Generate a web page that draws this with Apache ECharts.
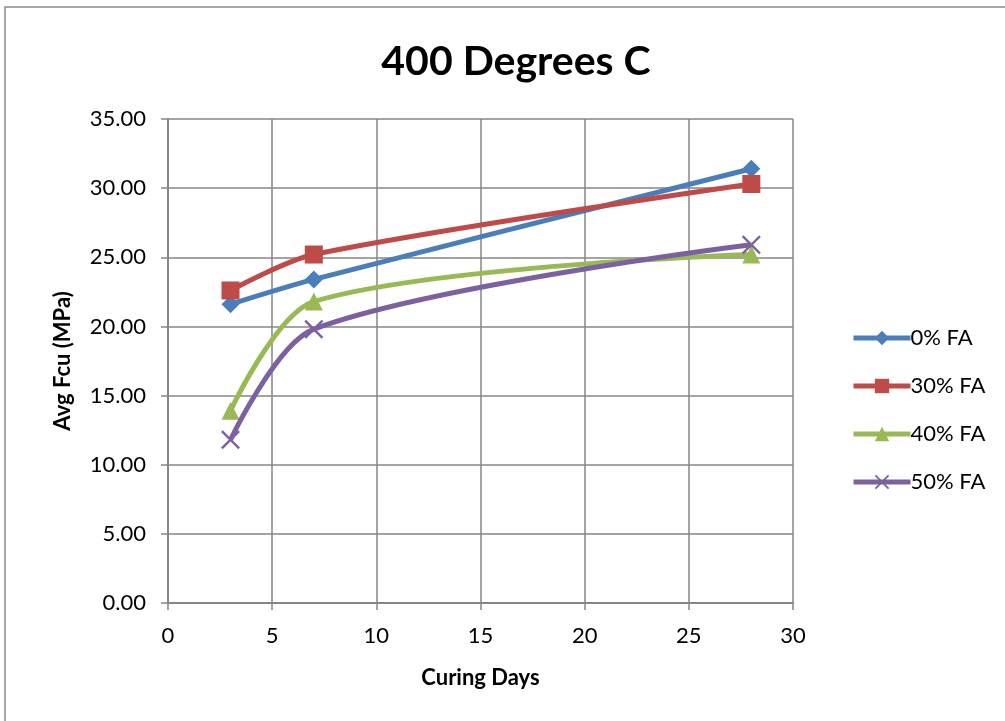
<!DOCTYPE html>
<html>
<head>
<meta charset="utf-8">
<script src="https://cdn.jsdelivr.net/npm/echarts@6/dist/echarts.min.js"></script>
<style>
  html, body { margin: 0; padding: 0; background: #fff; }
  #chart { width: 1005px; height: 721px; }
</style>
</head>
<body>
<div id="chart"></div>
<script>
// Curing days and average compressive strength after exposure to 400 °C
const days = [3, 7, 28];
const seriesNames = ['0% FA', '30% FA', '40% FA', '50% FA'];
const fa0 = [21.6, 23.4, 31.4];
const fa30 = [22.6, 25.2, 30.3];
const fa40 = [13.9, 21.8, 25.2];
const fa50 = [11.8, 19.8, 25.9];

const colors = ['#4A7EBB', '#BE4B48', '#98B954', '#7D60A0'];
const crossPath = 'path://M0,0.9L0.9,0L5,4.1L9.1,0L10,0.9L5.9,5L10,9.1L9.1,10L5,5.9L0.9,10L0,9.1L4.1,5Z';
const symbols = ['diamond', 'rect', 'triangle', crossPath];
const symbolSizes = [18, 18, 18, 19];
const values = [fa0, fa30, fa40, fa50];

const font = 'Lato, "Open Sans", sans-serif';

const chart = echarts.init(document.getElementById('chart'));
chart.setOption({
  animation: false,
  backgroundColor: '#fff',
  textStyle: { fontFamily: font },
  graphic: [{
    type: 'rect',
    shape: { x: 5, y: 7, width: 1100, height: 800 },
    style: { fill: 'none', stroke: '#8a8a8a', lineWidth: 1.5 },
    silent: true
  }],
  title: {
    text: '400 Degrees C',
    left: 511, top: 36, textAlign: 'center',
    textStyle: { fontFamily: font, fontSize: 41, fontWeight: 'bold', color: '#000' }
  },
  grid: { left: 168, right: 212, top: 119, bottom: 118, containLabel: false },
  legend: {
    orient: 'vertical',
    left: 846, top: 322,
    itemGap: 26, itemWidth: 57, itemHeight: 18,
    lineStyle: { width: 5 },
    textStyle: { fontFamily: font, fontSize: 22, color: '#000', padding: [0, 0, 0, -5] },
    data: seriesNames
  },
  xAxis: {
    type: 'value', min: 0, max: 30, interval: 5,
    name: 'Curing Days', nameLocation: 'middle', nameGap: 64,
    nameTextStyle: { fontFamily: font, fontSize: 22, fontWeight: 'bold', color: '#000' },
    axisLine: { show: true, onZero: false, lineStyle: { color: '#868686', width: 2 } },
    axisTick: { show: true, length: 7, lineStyle: { color: '#868686', width: 1.5 } },
    axisLabel: { fontFamily: font, fontSize: 22, color: '#000', margin: 22 },
    splitLine: { show: true, lineStyle: { color: '#868686', width: 1.5 } }
  },
  yAxis: {
    type: 'value', min: 0, max: 35, interval: 5,
    name: 'Avg Fcu (MPa)', nameLocation: 'middle', nameGap: 94, nameRotate: 90,
    nameTextStyle: { fontFamily: font, fontSize: 22, fontWeight: 'bold', color: '#000' },
    axisLine: { show: true, lineStyle: { color: '#868686', width: 2 } },
    axisTick: { show: true, length: 7, lineStyle: { color: '#868686', width: 1.5 } },
    axisLabel: {
      fontFamily: font, fontSize: 22, color: '#000', margin: 22,
      formatter: v => v.toFixed(2)
    },
    splitLine: { show: true, lineStyle: { color: '#868686', width: 1.5 } }
  },
  series: seriesNames.map((name, i) => ({
    name,
    type: 'line',
    smooth: 0.3,
    data: days.map((d, k) => [d, values[i][k]]),
    symbol: symbols[i],
    symbolSize: symbolSizes[i],
    showAllSymbol: true,
    color: colors[i],
    lineStyle: { color: colors[i], width: 5 },
    itemStyle: { color: colors[i] },
    z: 2 + i
  }))
});
</script>
</body>
</html>
